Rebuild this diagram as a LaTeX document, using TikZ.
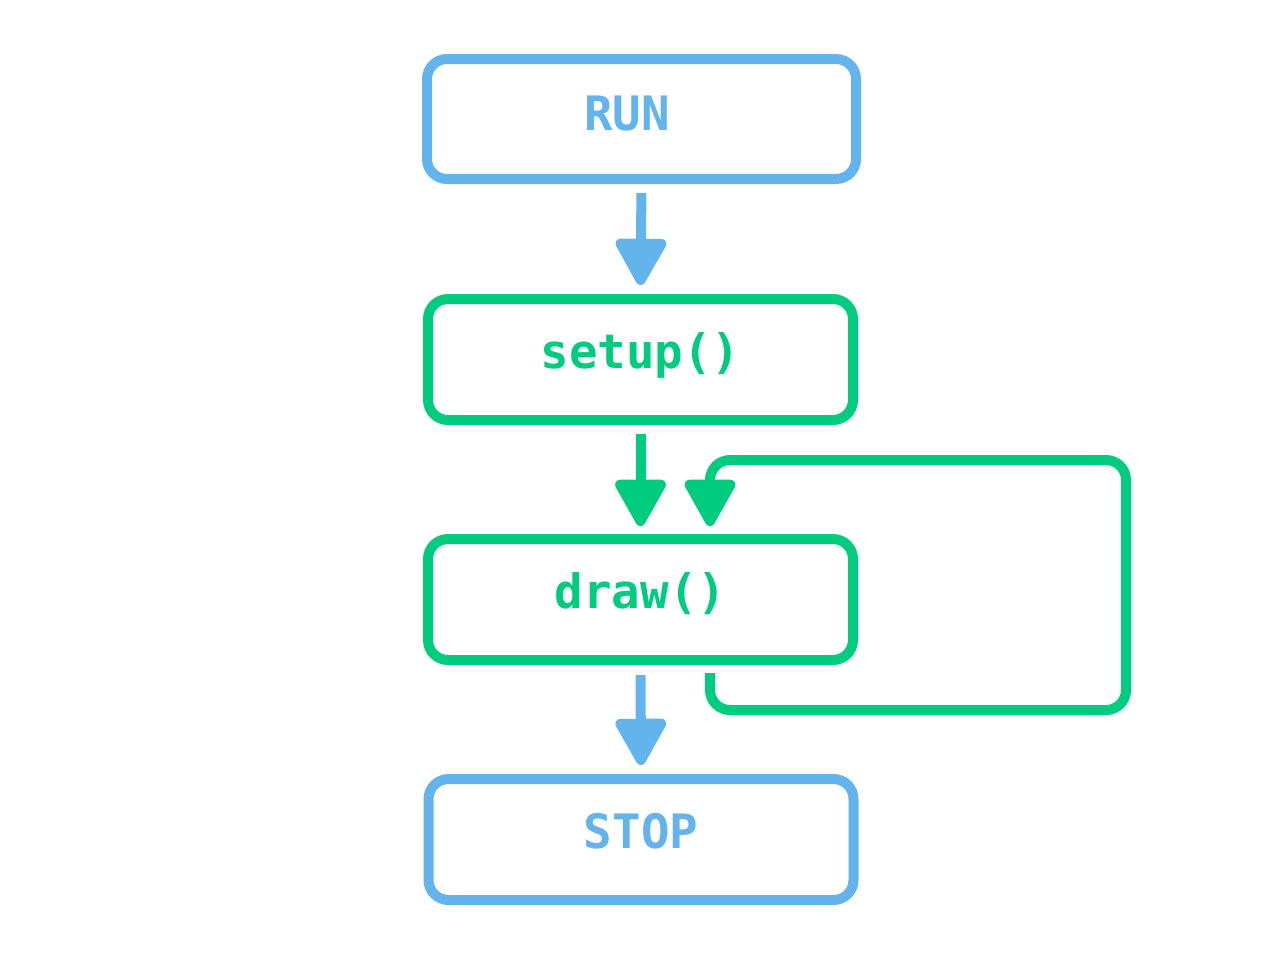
\documentclass[tikz,border=0pt]{standalone}
\usepackage{fontspec}
\setmonofont{DejaVu Sans Mono}
\usetikzlibrary{arrows.meta}

\definecolor{flowblue}{HTML}{63B3ED}
\definecolor{flowgreen}{HTML}{00CC7F}

\begin{document}
\begin{tikzpicture}[
    box/.style={draw, line width=0.1cm, rounded corners=0.2cm,
        minimum width=4.25cm, minimum height=1.21cm,
        text height=0.42cm, text depth=0.24cm,
        font=\fontsize{13.5}{16}\selectfont\ttfamily\bfseries},
    flow/.style={line width=0.1cm,
        -{Triangle[width=0.55cm,length=0.52cm,round]}},
    ]
            \useasboundingbox (0, 0) rectangle (12.8cm, -9.6cm);

            \node[box, flowblue, minimum width=4.29cm, minimum height=1.2cm, text height=0.46cm] (run) at (6.415cm, -1.19cm) {RUN\hphantom{N}};
            \node[box, flowgreen] (setup) at (6.405cm, -3.595cm) {setup()};
            \node[box, flowgreen] (draw) at (6.405cm, -5.995cm) {draw()};
            \node[box, flowblue] (stop) at (6.41cm, -8.395cm) {STOP};

            \draw[flow, flowblue, shorten <=0.09cm, shorten >=0.09cm] (run.south) to (setup.north);
            \draw[flow, flowgreen, shorten <=0.09cm, shorten >=0.08cm] (setup.south) to (draw.north);
            \draw[flow, flowblue, shorten <=0.10cm, shorten >=0.09cm] (draw.south) to (stop.north);

            % draw() runs again and again
            \draw[flow, flowgreen, rounded corners=0.2cm, shorten <=0.08cm, shorten >=0.08cm]
                ([xshift=0.695cm]draw.south) |- (11.26cm, -7.10cm) |- (7.10cm, -4.60cm)
                -- ([xshift=0.695cm]draw.north);
        \end{tikzpicture}
\end{document}
